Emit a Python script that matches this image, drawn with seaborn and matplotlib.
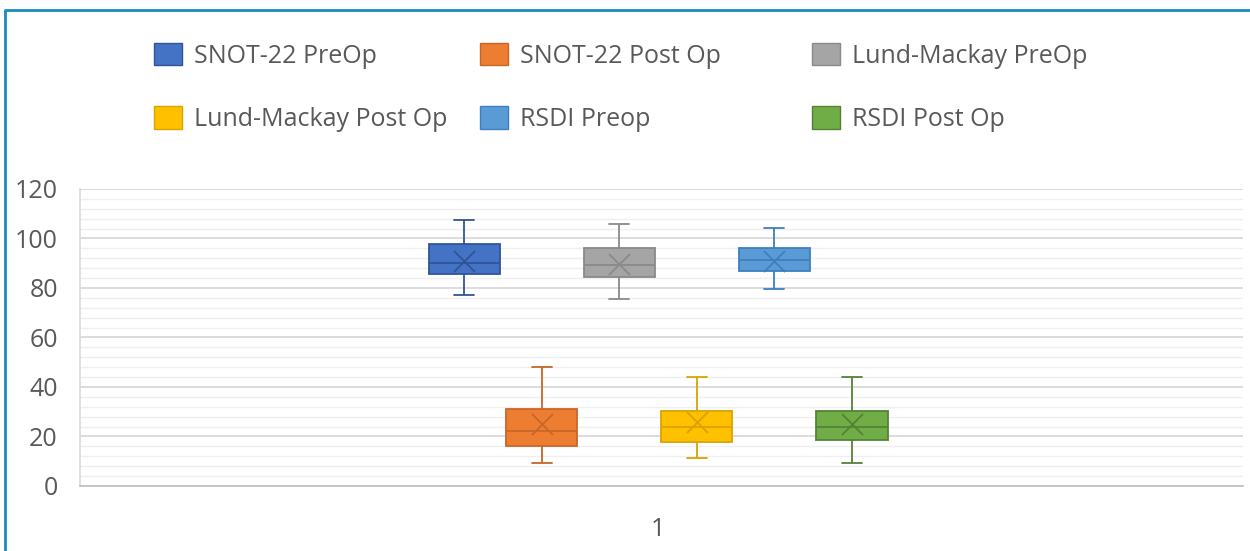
import matplotlib

matplotlib.use("Agg")
import matplotlib.pyplot as plt
import numpy as np
import pandas as pd
import seaborn as sns
from matplotlib.lines import Line2D
from matplotlib.patches import Patch
from matplotlib.ticker import MultipleLocator

# five-number summaries (min, q1, median, q3, max)
series = [
    "SNOT-22 PreOp",
    "SNOT-22 Post Op",
    "Lund-Mackay PreOp",
    "Lund-Mackay Post Op",
    "RSDI Preop",
    "RSDI Post Op",
]
lows = [77.3, 9.3, 75.4, 11.5, 79.4, 9.3]
q1s = [85.5, 16.3, 84.4, 17.6, 86.7, 18.6]
medians = [90.0, 22.2, 89.2, 24.0, 91.2, 24.0]
q3s = [97.7, 31.3, 96.3, 30.4, 96.3, 30.4]
highs = [107.5, 48.1, 105.8, 43.9, 104.4, 43.9]
means = [91.0, 25.0, 89.5, 26.0, 91.0, 25.0]
category = "1"

fills = ["#4472C4", "#ED7D31", "#A5A5A5", "#FFC000", "#5B9BD5", "#70AD47"]
edges = ["#2F5597", "#C8662A", "#8A8A8A", "#D9A300", "#3D7FBF", "#548235"]
text_color = "#595959"

sns.set_theme(style="white")
plt.rcParams["font.family"] = ["Open Sans", "DejaVu Sans"]

rows = []
for name, lo, a, m, b, hi in zip(series, lows, q1s, medians, q3s, highs):
    for v in (lo, a, m, b, hi):
        rows.append({"x": category, "series": name, "value": v})
df = pd.DataFrame(rows)

fig = plt.figure(figsize=(12.5, 5.51), dpi=100)
ax = fig.add_axes([0.064, 0.118, 0.9304, 0.539])

sns.boxplot(
    data=df,
    x="x",
    y="value",
    hue="series",
    hue_order=series,
    palette=dict(zip(series, fills)),
    saturation=1,
    width=0.4,
    gap=0.08,
    whis=np.inf,
    showfliers=False,
    linewidth=1.3,
    legend=False,
    ax=ax,
)

# recolour each series outline and shorten caps, then add mean crosses
for cont, ec, mean in zip(ax.containers, edges, means):
    box = cont.boxes[0]
    box.set_edgecolor(ec)
    xs = box.get_path().vertices[:, 0]
    center = (xs.min() + xs.max()) / 2
    half_cap = (xs.max() - xs.min()) * 0.14
    for ln in list(cont.whiskers) + list(cont.medians):
        ln.set_color(ec)
    for ln in cont.caps:
        ln.set_color(ec)
        ln.set_xdata([center - half_cap, center + half_cap])
    ax.scatter(center, mean, marker="x", s=230, color=ec, linewidths=1.3, zorder=5)

ax.set_ylim(0, 120)
ax.set_xlim(-0.497, 0.503)
ax.yaxis.set_major_locator(MultipleLocator(20))
ax.yaxis.set_minor_locator(MultipleLocator(4))
ax.set_axisbelow(True)
ax.grid(which="major", axis="y", color="#D9D9D9", lw=1.3)
ax.grid(which="minor", axis="y", color="#EFEFEF", lw=1.0)
ax.tick_params(which="both", length=0)
ax.tick_params(axis="y", pad=16, labelsize=18, labelcolor=text_color)
ax.tick_params(axis="x", pad=22, labelsize=18, labelcolor=text_color)
ax.set_xlabel("")
ax.set_ylabel("")
for side in ("top", "right"):
    ax.spines[side].set_visible(False)
ax.spines["left"].set_color("#D9D9D9")
ax.spines["bottom"].set_color("#BFBFBF")
ax.spines["left"].set_linewidth(1.2)
ax.spines["bottom"].set_linewidth(1.2)

# legend: three columns of two entries, laid out row by row
handles = [Patch(facecolor=f, edgecolor=e, lw=1) for f, e in zip(fills, edges)]
col_x = [154 / 1250, 480 / 1250, 812 / 1250]
for c, x0 in enumerate(col_x):
    idx = [c, c + 3]
    fig.legend(
        [handles[i] for i in idx],
        [series[i] for i in idx],
        loc="upper left",
        bbox_to_anchor=(x0, 1 - 43 / 551),
        frameon=False,
        fontsize=18,
        labelcolor=text_color,
        handlelength=1.1,
        handleheight=1.0,
        handletextpad=0.5,
        labelspacing=1.5,
        borderpad=0,
        borderaxespad=0,
    )

# thin blue frame visible on the left and top
fig.add_artist(
    Line2D(
        [5 / 1250, 5 / 1250, 1.0],
        [0.0, 1 - 10 / 551, 1 - 10 / 551],
        transform=fig.transFigure,
        color="#1A8DC0",
        lw=2,
    )
)

fig.savefig("out.png", dpi=100, facecolor="white")
